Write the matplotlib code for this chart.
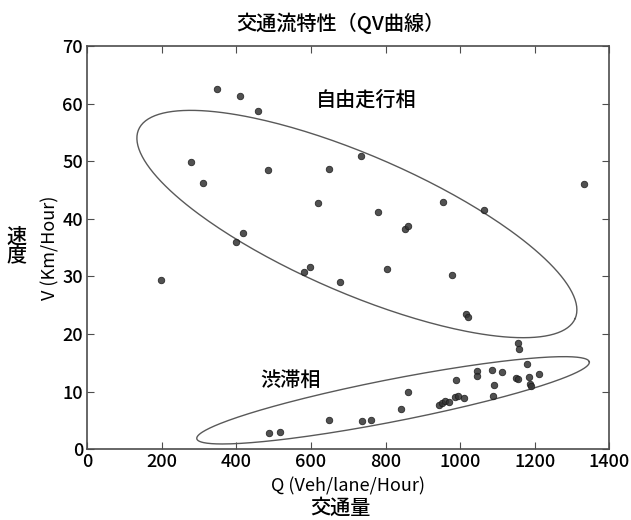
import numpy as np
import matplotlib
matplotlib.use("Agg")
import matplotlib.pyplot as plt

plt.rcParams["font.family"] = ["Noto Sans CJK JP", "DejaVu Sans"]
plt.rcParams["font.weight"] = "medium"

# ── データ ──────────────────────────────────────────────
# 自由走行相
q_free = [348, 409, 458, 278, 309, 485, 649, 618, 418, 399, 735, 779,
          851, 861, 953, 1063, 1333, 198, 581, 597, 678, 803, 979, 1016, 1020]
v_free = [62.5, 61.3, 58.7, 49.9, 46.2, 48.4, 48.6, 42.7, 37.6, 35.9, 50.9, 41.2,
          38.3, 38.7, 42.9, 41.6, 46.1, 29.4, 30.7, 31.6, 29.0, 31.3, 30.3, 23.4, 23.0]

# 渋滞相
q_jam = [488, 518, 649, 737, 760, 840, 861, 943, 952, 959, 970, 987, 993, 1009,
         988, 1044, 1044, 1085, 1111, 1090, 1088, 1151, 1155, 1178, 1185, 1188,
         1189, 1211, 1155, 1159]
v_jam = [2.8, 2.95, 5.0, 4.9, 5.1, 7.0, 9.9, 7.7, 8.1, 8.4, 8.2, 9.1, 9.25, 8.9,
         12.0, 13.6, 12.8, 13.8, 13.4, 11.2, 9.3, 12.4, 12.25, 14.75, 12.5, 11.3,
         11.0, 13.1, 18.5, 17.4]

# 楕円 (中心, 共役半径ベクトル2本)
ell_free = dict(c=(723, 39.1), u=(585.5, -16.4), v=(-73.4, -10.97))
ell_jam = dict(c=(820, 8.5), u=(526.4, 6.67), v=(10.9, -3.6))

XTICKS = [0, 200, 400, 600, 800, 1000, 1200, 1400]
YTICKS = [0, 10, 20, 30, 40, 50, 60, 70]


def ellipse_xy(e, n=300):
    t = np.linspace(0, 2 * np.pi, n)
    x = e["c"][0] + e["u"][0] * np.cos(t) + e["v"][0] * np.sin(t)
    y = e["c"][1] + e["u"][1] * np.cos(t) + e["v"][1] * np.sin(t)
    return x, y


fig = plt.figure(figsize=(6.31, 5.20), dpi=100)
ax = fig.add_axes([0.1384, 0.1360, 0.8272, 0.7755])

ax.scatter(q_free + q_jam, v_free + v_jam, s=22, color="0.2", alpha=0.85,
           edgecolors="0.1", linewidths=0.6, zorder=3)

for e in (ell_free, ell_jam):
    ex, ey = ellipse_xy(e)
    ax.plot(ex, ey, color="0.35", linewidth=1.0)

ax.text(747, 60.6, "自由走行相", fontsize=14.5, ha="center", va="center")
ax.text(546, 12.0, "渋滞相", fontsize=14.5, ha="center", va="center")

ax.set_xlim(0, 1400)
ax.set_ylim(0, 70)
ax.set_xticks(XTICKS)
ax.set_yticks(YTICKS)
ax.tick_params(direction="in", top=True, right=True, length=5, labelsize=13,
               color="0.3", pad=3)
for s in ax.spines.values():
    s.set_color("0.3")
    s.set_linewidth(1.2)

fig.text(0.540, 0.955, "交通流特性（QV曲線）", fontsize=14.5, ha="center",
         va="center")
ax.set_xlabel("Q (Veh/lane/Hour)", fontsize=13, labelpad=4)
fig.text(0.540, 0.023, "交通量", fontsize=14.5, ha="center", va="center")
ax.set_ylabel("V (Km/Hour)", fontsize=13, labelpad=2)
fig.text(0.026, 0.525, "速\n度", fontsize=14.5, ha="center", va="center",
         linespacing=1.0)

fig.savefig("out.png", dpi=100)
